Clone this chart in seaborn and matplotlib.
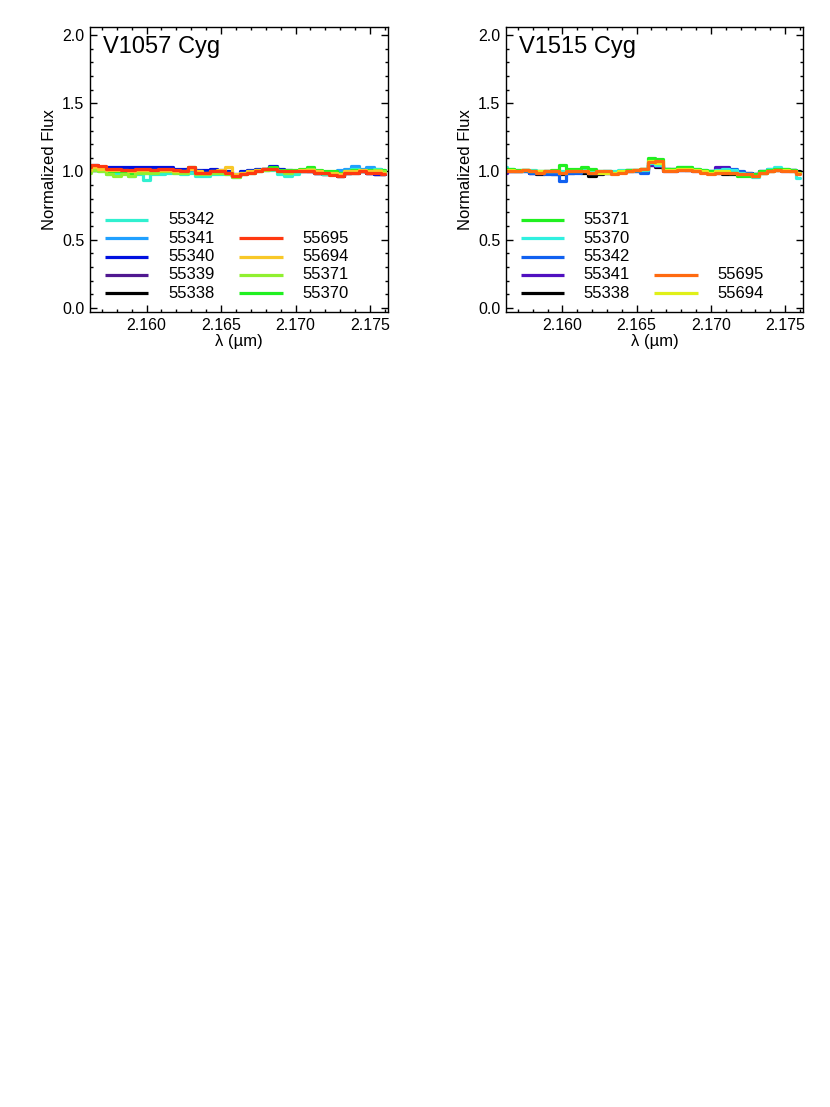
import numpy as np
import pandas as pd
import seaborn as sns
from matplotlib import pyplot as plt
from matplotlib.ticker import MultipleLocator, FormatStrFormatter

# 波長グリッド (um)
wave = np.round(2.156 + 0.0005 * np.arange(41), 4)

# V1057 Cyg の規格化スペクトル (MJD ごと)
v1057_55338 = [1.02, 1.04, 1.03, 1.02, 1.02, 1.02, 1.01, 1.02, 1.02, 1.01, 1.02, 1.02, 1.01, 1.00,
               1.02, 1.00, 0.99, 1.00, 1.00, 0.99, 0.97, 0.99, 1.00, 1.01, 1.02, 1.03, 1.01, 1.00,
               1.00, 1.00, 1.00, 0.99, 0.98, 0.98, 0.97, 0.99, 0.99, 1.00, 0.99, 0.98, 0.98]
v1057_55339 = [1.03, 1.04, 1.03, 1.02, 1.02, 1.02, 1.02, 1.02, 1.02, 1.02, 1.02, 1.02, 1.01, 1.01,
               1.02, 1.00, 1.00, 1.01, 1.00, 0.99, 0.97, 0.99, 1.00, 1.01, 1.02, 1.03, 1.01, 1.00,
               1.00, 1.00, 1.00, 0.99, 0.98, 0.98, 0.97, 0.99, 1.00, 1.00, 0.99, 0.98, 0.98]
v1057_55340 = [1.04, 1.05, 1.03, 1.03, 1.03, 1.03, 1.03, 1.035, 1.035, 1.03, 1.03, 1.03, 1.02, 1.02,
               1.02, 1.01, 1.01, 1.02, 1.01, 1.00, 0.98, 1.00, 1.01, 1.02, 1.02, 1.04, 1.02, 1.01,
               1.00, 1.01, 1.00, 0.99, 0.99, 0.98, 0.98, 0.99, 1.00, 1.00, 0.99, 0.98, 0.98]
v1057_55341 = [1.02, 1.03, 1.02, 1.00, 1.00, 1.00, 0.99, 1.00, 0.99, 1.00, 1.00, 1.01, 1.00, 0.99,
               1.01, 0.98, 0.98, 0.99, 0.99, 0.99, 0.97, 0.99, 1.00, 1.01, 1.01, 1.02, 1.00, 0.99,
               1.00, 1.01, 1.01, 1.00, 0.99, 0.99, 1.01, 1.02, 1.04, 1.02, 1.03, 1.02, 1.00]
v1057_55342 = [1.00, 1.01, 1.00, 0.98, 0.98, 0.99, 0.97, 0.98, 0.94, 0.98, 0.98, 0.99, 0.99, 0.98,
               0.99, 0.97, 0.97, 0.98, 0.98, 0.98, 0.96, 0.98, 0.99, 1.00, 1.01, 1.01, 0.98, 0.97,
               0.98, 1.00, 1.02, 0.99, 0.98, 0.99, 0.99, 1.00, 1.02, 1.00, 1.01, 1.02, 1.01]
v1057_55370 = [1.00, 1.02, 1.01, 1.00, 1.00, 1.00, 0.99, 1.00, 1.00, 1.00, 1.01, 1.01, 1.00, 1.00,
               1.03, 1.00, 0.99, 1.00, 1.00, 0.99, 0.97, 0.99, 1.00, 1.01, 1.02, 1.03, 1.01, 1.01,
               1.01, 1.02, 1.03, 1.01, 1.00, 1.00, 0.99, 1.00, 1.01, 1.01, 1.01, 1.01, 1.01]
v1057_55371 = [0.99, 1.01, 1.00, 0.98, 0.97, 0.98, 0.97, 0.99, 0.99, 0.99, 1.00, 1.00, 0.99, 0.99,
               1.02, 0.98, 0.98, 0.99, 0.99, 0.98, 0.96, 0.98, 0.99, 1.00, 1.01, 1.02, 1.00, 0.99,
               1.00, 1.01, 1.02, 1.00, 0.99, 0.99, 0.98, 0.99, 1.00, 1.00, 1.00, 1.01, 1.00]
v1057_55694 = [1.01, 1.03, 1.02, 1.01, 1.01, 1.01, 1.00, 1.01, 1.01, 1.01, 1.01, 1.01, 1.00, 1.00,
               1.02, 1.00, 0.99, 1.00, 1.01, 1.03, 0.98, 0.99, 1.00, 1.01, 1.02, 1.02, 1.00, 1.00,
               1.00, 1.01, 1.01, 1.00, 0.99, 0.99, 0.98, 1.00, 1.00, 1.01, 1.00, 1.00, 0.99]
v1057_55695 = [1.03, 1.05, 1.04, 1.02, 1.02, 1.01, 1.01, 1.02, 1.02, 1.01, 1.02, 1.02, 1.01, 1.00,
               1.03, 0.99, 0.99, 1.00, 1.00, 0.99, 0.965, 0.98, 0.99, 1.00, 1.02, 1.02, 1.00, 1.00,
               1.00, 1.00, 1.00, 0.99, 0.99, 0.975, 0.97, 0.99, 0.99, 1.00, 0.99, 0.99, 0.98]

# V1515 Cyg の規格化スペクトル
v1515_55338 = [1.00, 1.00, 1.00, 1.01, 0.99, 0.98, 0.99, 0.98, 0.98, 0.99, 1.00, 0.99, 0.97, 0.98,
               0.99, 0.99, 1.00, 1.01, 1.01, 1.02, 1.05, 1.03, 1.02, 1.02, 1.02, 1.01, 1.01, 1.00,
               0.99, 0.99, 0.98, 0.98, 0.99, 0.99, 0.98, 0.99, 1.00, 1.01, 1.01, 1.01, 1.00]
v1515_55341 = [0.99, 1.00, 1.00, 1.00, 0.99, 0.99, 1.00, 0.99, 0.99, 1.00, 1.00, 1.00, 0.99, 0.99,
               0.99, 0.99, 1.00, 1.00, 1.00, 1.00, 1.05, 1.04, 1.00, 1.00, 1.01, 1.01, 1.00, 1.00,
               1.00, 1.03, 1.03, 1.00, 0.99, 0.98, 0.98, 1.00, 1.01, 1.01, 1.00, 1.00, 0.99]
v1515_55342 = [1.01, 1.00, 1.00, 1.00, 0.99, 0.99, 0.98, 0.98, 0.93, 0.99, 0.99, 1.00, 0.99, 0.99,
               1.00, 0.99, 1.00, 1.00, 1.00, 0.99, 1.06, 1.05, 1.02, 1.01, 1.01, 1.02, 1.01, 1.00,
               1.00, 1.01, 1.02, 1.02, 1.00, 0.99, 0.98, 1.00, 1.02, 1.02, 1.01, 1.01, 0.99]
v1515_55370 = [1.03, 1.02, 1.01, 1.01, 1.01, 1.00, 1.00, 1.00, 1.00, 1.01, 1.01, 1.02, 1.01, 1.00,
               1.00, 1.00, 1.01, 1.01, 1.01, 1.01, 1.06, 1.05, 1.02, 1.02, 1.03, 1.03, 1.02, 1.01,
               1.00, 1.01, 1.02, 1.01, 0.99, 0.98, 0.96, 0.99, 1.02, 1.03, 1.02, 1.01, 0.95]
v1515_55371 = [1.02, 1.02, 1.01, 1.01, 1.00, 1.00, 1.00, 1.01, 1.05, 1.02, 1.02, 1.03, 1.02, 1.00,
               1.00, 0.99, 1.00, 1.01, 1.01, 1.02, 1.10, 1.09, 1.02, 1.02, 1.03, 1.03, 1.02, 1.01,
               1.00, 1.00, 1.00, 0.99, 0.97, 0.97, 0.98, 1.00, 1.01, 1.02, 1.02, 1.01, 0.99]
v1515_55694 = [1.01, 1.01, 1.00, 1.01, 1.00, 1.00, 1.00, 1.00, 0.99, 1.00, 1.00, 1.00, 0.99, 0.99,
               0.99, 0.99, 1.00, 1.00, 1.01, 1.02, 1.08, 1.06, 1.01, 1.01, 1.02, 1.02, 1.01, 1.00,
               0.99, 1.00, 1.00, 0.99, 0.98, 0.98, 0.97, 0.99, 1.00, 1.01, 1.01, 1.00, 0.99]
v1515_55695 = [1.00, 1.00, 1.00, 1.01, 1.00, 0.99, 1.00, 1.00, 0.99, 1.00, 1.00, 1.00, 0.99, 1.00,
               1.00, 0.98, 0.99, 1.00, 1.01, 1.02, 1.07, 1.08, 1.00, 1.00, 1.01, 1.01, 1.00, 0.99,
               0.98, 0.99, 0.99, 0.99, 0.98, 0.98, 0.97, 0.99, 1.00, 1.01, 1.00, 1.00, 0.98]

v1057_spectra = {'55338': v1057_55338, '55339': v1057_55339, '55340': v1057_55340,
                 '55341': v1057_55341, '55342': v1057_55342, '55370': v1057_55370,
                 '55371': v1057_55371, '55694': v1057_55694, '55695': v1057_55695}
v1515_spectra = {'55338': v1515_55338, '55341': v1515_55341, '55342': v1515_55342,
                 '55370': v1515_55370, '55371': v1515_55371, '55694': v1515_55694,
                 '55695': v1515_55695}

# 色 (パネルごと)
v1057_colors = {'55342': '#30f0d0', '55341': '#20a0ff', '55340': '#0010e0',
                '55339': '#501890', '55338': '#000000', '55695': '#ff3810',
                '55694': '#f8c828', '55371': '#90f030', '55370': '#20f020'}
v1515_colors = {'55371': '#20f020', '55370': '#30f0e0', '55342': '#1060f0',
                '55341': '#5010c0', '55338': '#000000', '55695': '#ff6a10',
                '55694': '#e0f018'}

# 凡例の並び (左列, 右列)
v1057_legend = (['55342', '55341', '55340', '55339', '55338'],
                ['55695', '55694', '55371', '55370'])
v1515_legend = (['55371', '55370', '55342', '55341', '55338'],
                ['55695', '55694'])


def to_long(spectra):
    frames = []
    for mjd, flux in spectra.items():
        frames.append(pd.DataFrame({'wave': wave, 'flux': flux, 'mjd': mjd}))
    return pd.concat(frames, ignore_index=True)


def draw_panel(ax, spectra, colors, legend_cols, name):
    df = to_long(spectra)
    sns.lineplot(data=df, x='wave', y='flux', hue='mjd', hue_order=list(spectra.keys()),
                 palette=colors, estimator=None, drawstyle='steps-mid',
                 linewidth=2.3, legend=False, ax=ax)

    ax.set_xlim(2.1562, 2.1762)
    ax.set_ylim(-0.03, 2.06)
    ax.xaxis.set_major_locator(MultipleLocator(0.005))
    ax.xaxis.set_minor_locator(MultipleLocator(0.001))
    ax.xaxis.set_major_formatter(FormatStrFormatter('%.3f'))
    ax.yaxis.set_major_locator(MultipleLocator(0.5))
    ax.yaxis.set_minor_locator(MultipleLocator(0.1))
    ax.yaxis.set_major_formatter(FormatStrFormatter('%.1f'))
    ax.tick_params(which='both', direction='in', top=True, right=True,
                   width=1.0, labelsize=11.5, color='black', labelcolor='black')
    ax.tick_params(which='major', length=5, pad=4)
    ax.tick_params(which='minor', length=2.5)
    for sp in ax.spines.values():
        sp.set_linewidth(1.0)
        sp.set_color('black')
        sp.set_visible(True)

    ax.set_xlabel('λ (µm)', fontsize=12, labelpad=1, color='black')
    ax.set_ylabel('Normalized Flux', fontsize=12, labelpad=4, color='black')
    ax.text(0.044, 0.93, name, transform=ax.transAxes, fontsize=17,
            ha='left', va='center', color='black')

    # 凡例 (手書き)
    rows = [0.323, 0.259, 0.194, 0.130, 0.066]
    for col, (x0, x1, xt) in zip(legend_cols, [(0.050, 0.196, 0.262), (0.500, 0.648, 0.712)]):
        start = len(rows) - len(col)
        for i, mjd in enumerate(col):
            y = rows[start + i]
            ax.plot([x0, x1], [y, y], color=colors[mjd], linewidth=2.3,
                    transform=ax.transAxes, solid_capstyle='butt')
            ax.text(xt, y, mjd, transform=ax.transAxes, fontsize=12,
                    ha='left', va='center', color='black')


sns.set_style('ticks')
plt.rcParams['font.family'] = ['Liberation Sans', 'DejaVu Sans']
plt.rcParams['text.color'] = 'black'

fig = plt.figure(figsize=(8.3, 11.07), dpi=100)
ax1 = fig.add_axes([0.1084, 0.7182, 0.359, 0.2575])
ax2 = fig.add_axes([0.6096, 0.7182, 0.3578, 0.2575])

draw_panel(ax1, v1057_spectra, v1057_colors, v1057_legend, 'V1057 Cyg')
draw_panel(ax2, v1515_spectra, v1515_colors, v1515_legend, 'V1515 Cyg')

fig.savefig('out.png', dpi=100)
